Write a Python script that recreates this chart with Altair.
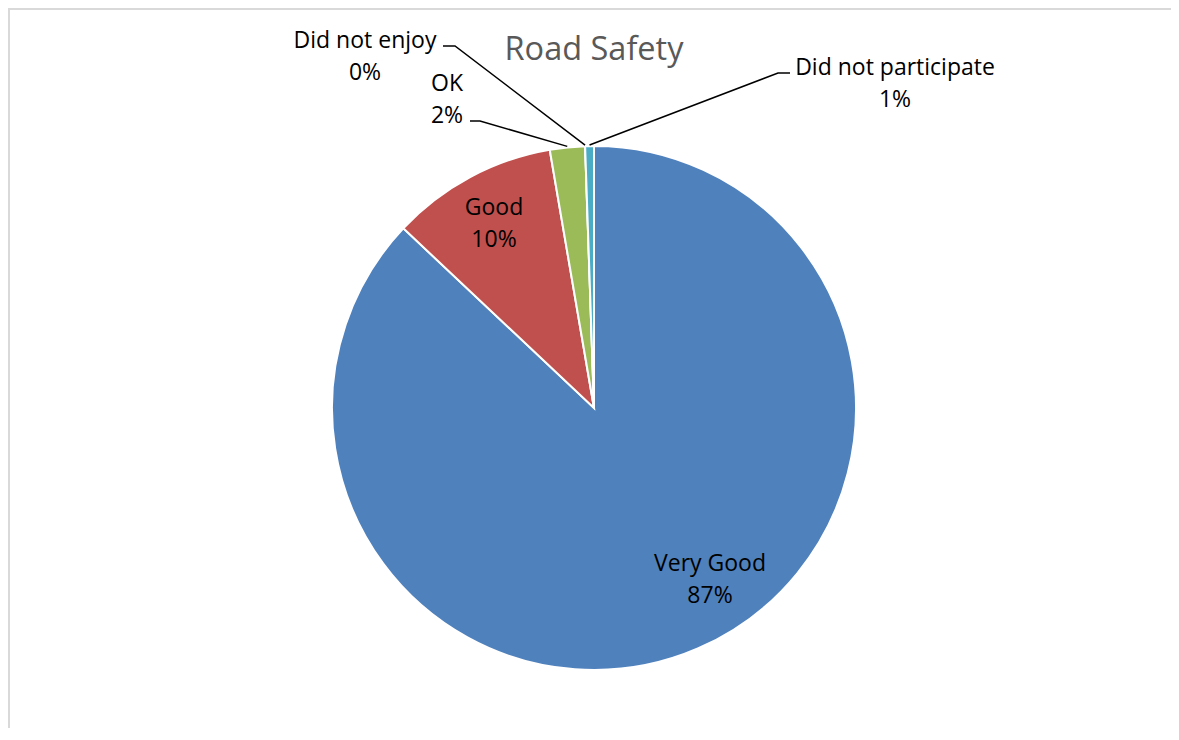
import altair as alt
import pandas as pd
import numpy as np

# ---------------- data ----------------
categories = ["Very Good", "Good", "OK", "Did not enjoy", "Did not participate"]
counts = [161, 19, 4, 0, 1]
title_text = "Road Safety"

# ---------------- style ----------------
colors = ["#4F81BD", "#C0504D", "#9BBB59", "#8064A2", "#4BACC6"]
W, H = 1163, 720
CX, CY, R = 586, 400, 262
FONT = "Open Sans"
LABEL_SIZE = 23
LINE_GAP = 32
# label centre x and first-line baseline (chart pixels)
label_pos = {
    "Very Good": (702, 563),
    "Good": (486, 207),
    "OK": (439, 83),
    "Did not enjoy": (357, 40),
    "Did not participate": (887, 67),
}
# leader line: points near the label, then the slice edge (computed from data)
leader_start = {
    "OK": [(462, 113), (472, 113)],
    "Did not enjoy": [(435, 38), (447, 38)],
    "Did not participate": [(782, 65), (770, 65)],
}

total = float(sum(counts))
pcts = [f"{int(np.floor(c / total * 100 + 0.5))}%" for c in counts]

arc_df = pd.DataFrame({"category": categories, "count": counts,
                       "order": list(range(len(categories)))})

label_rows = []
for cat, pct in zip(categories, pcts):
    lx, ly = label_pos[cat]
    label_rows.append({"x": lx, "y": ly, "text": cat})
    label_rows.append({"x": lx, "y": ly + LINE_GAP, "text": pct})
label_df = pd.DataFrame(label_rows)

# slice mid angles from the data
cum = np.cumsum([0] + counts)
leader_rows = []
for i, cat in enumerate(categories):
    if cat not in leader_start:
        continue
    mid = (cum[i] + cum[i + 1]) / 2.0 / total * 2 * np.pi
    ex = CX + (R + 1) * np.sin(mid)
    ey = CY - (R + 1) * np.cos(mid)
    pts = leader_start[cat] + [(ex, ey)]
    for j, (px, py) in enumerate(pts):
        leader_rows.append({"category": cat, "idx": j, "x": px, "y": py})
leader_df = pd.DataFrame(leader_rows)

pie = alt.Chart(arc_df).mark_arc(radius=R, stroke="white", strokeWidth=2).encode(
    theta=alt.Theta("count:Q", stack=True),
    color=alt.Color("category:N", scale=alt.Scale(domain=categories, range=colors), legend=None),
    order=alt.Order("order:Q"),
    x=alt.value(CX),
    y=alt.value(CY),
)

labels = alt.Chart(label_df).mark_text(
    font=FONT, fontSize=LABEL_SIZE, align="center", baseline="alphabetic", color="black"
).encode(
    x=alt.X("x:Q", scale=None, axis=None),
    y=alt.Y("y:Q", scale=None, axis=None),
    text="text:N",
)

leaders = alt.Chart(leader_df).mark_line(color="black", strokeWidth=1.5).encode(
    x=alt.X("x:Q", scale=None, axis=None),
    y=alt.Y("y:Q", scale=None, axis=None),
    detail="category:N",
    order="idx:Q",
)

title = alt.Chart(pd.DataFrame({"t": [title_text]})).mark_text(
    font=FONT, fontSize=32.5, align="center", baseline="alphabetic", color="#595959"
).encode(x=alt.value(CX), y=alt.value(52), text="t:N")

border_left = alt.Chart(pd.DataFrame({"a": [0]})).mark_rule(color="#d9d9d9", strokeWidth=2).encode(
    x=alt.value(1), y=alt.value(0), y2=alt.value(H))
border_top = alt.Chart(pd.DataFrame({"a": [0]})).mark_rule(color="#d9d9d9", strokeWidth=2).encode(
    x=alt.value(0), x2=alt.value(W), y=alt.value(1))

chart = alt.layer(border_left, border_top, pie, leaders, labels, title).properties(
    width=W, height=H, autosize=alt.AutoSizeParams(type="none"), padding=0
).configure_view(stroke=None)

chart.save("out.html", embed_options={"renderer": "svg", "actions": False})
